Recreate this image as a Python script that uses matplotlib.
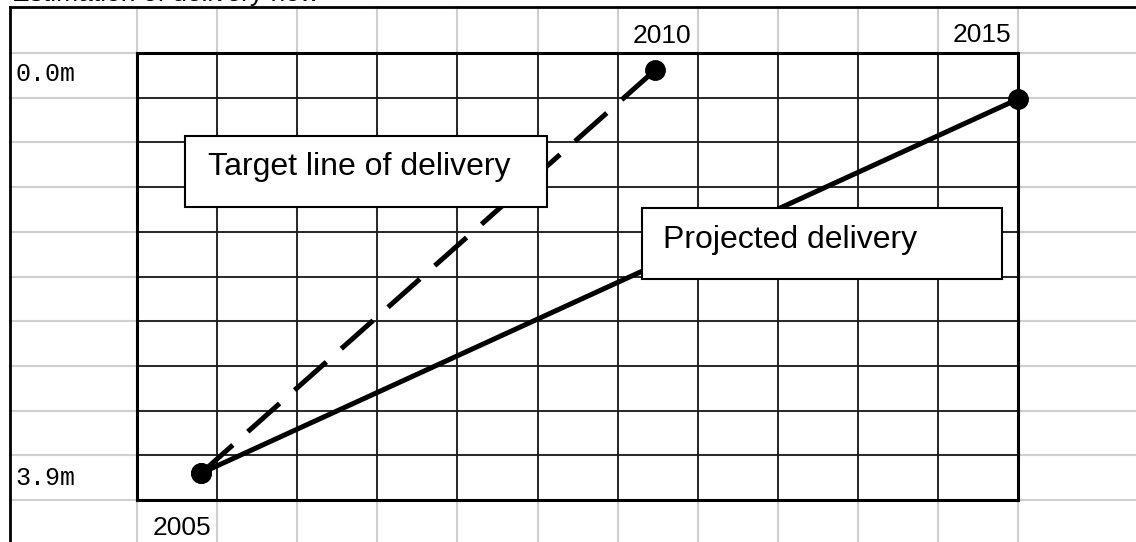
import matplotlib
matplotlib.use("Agg")
import matplotlib.pyplot as plt
from matplotlib.patches import Rectangle

# --- data (grid cells: x = columns from left of grid, y = rows from top) ---
years = ["2005", "2010", "2015"]
year_col = [0.93, 6.92, 10.92]        # right edge of each year label
year_row = [10.78, -0.22, -0.25]      # baseline of each year label
depth_labels = ["0.0m", "3.9m"]
depth_row = [0.62, 9.66]

target_x = [0.80, 6.47]
target_y = [9.40, 0.38]
projected_x = [0.80, 11.0]
projected_y = [9.40, 1.03]

n_cols, n_rows = 11, 10
W, H = 1136, 542
gx0, gy0, cw, rh = 137, 53, 80.1, 44.7   # grid origin / cell size in pixels

fig = plt.figure(figsize=(W / 100, H / 100), dpi=100)
fig.set_facecolor("white")

# spreadsheet background (pixel coords)
bg = fig.add_axes([0, 0, 1, 1])
bg.set_xlim(0, W)
bg.set_ylim(H, 0)
bg.axis("off")
for k in range(n_cols + 1):
    bg.plot([gx0 + k * cw] * 2, [7, H], color="#cfcfcf", lw=1.5, zorder=1)
for k in range(n_rows + 1):
    bg.plot([10, W], [gy0 + k * rh] * 2, color="#cfcfcf", lw=1.5, zorder=1)
bg.plot([10, W], [7, 7], color="black", lw=2, zorder=2)
bg.plot([10, 10], [7, H], color="black", lw=2, zorder=2)
# title row is scrolled almost out of view in the original
bg.text(12, 1.2, "Estimation of delivery now", fontsize=19,
        family="Liberation Sans", va="baseline", ha="left")

# main grid
ax = fig.add_axes([gx0 / W, (H - gy0 - n_rows * rh) / H,
                   n_cols * cw / W, n_rows * rh / H])
ax.set_xlim(0, n_cols)
ax.set_ylim(n_rows, 0)
ax.patch.set_alpha(0)
ax.set_xticks(range(n_cols + 1))
ax.set_yticks(range(n_rows + 1))
ax.tick_params(length=0, labelbottom=False, labelleft=False)
ax.grid(True, color="#1a1a1a", lw=1.3)
for s in ax.spines.values():
    s.set_linewidth(2.2)

ax.plot(target_x, target_y, color="black", lw=3.6, dashes=(8.5, 4),
        marker="o", markersize=14, zorder=3, clip_on=False)
ax.plot(projected_x, projected_y, color="black", lw=3.6,
        marker="o", markersize=14, zorder=3, clip_on=False)

# annotation boxes
ax.add_patch(Rectangle((0.60, 1.86), 4.52, 1.59, facecolor="white",
                       edgecolor="black", lw=1.5, zorder=5))
ax.text(0.89, 2.73, "Target line of delivery", fontsize=23,
        family="Liberation Sans", va="baseline", zorder=6)
ax.add_patch(Rectangle((6.30, 3.47), 4.50, 1.59, facecolor="white",
                       edgecolor="black", lw=1.5, zorder=5))
ax.text(6.57, 4.36, "Projected delivery", fontsize=23,
        family="Liberation Sans", va="baseline", zorder=6)

# labels
for lab, c, r in zip(years, year_col, year_row):
    ax.text(c, r, lab, fontsize=19, family="Liberation Sans",
            ha="right", va="baseline", clip_on=False)
for lab, r in zip(depth_labels, depth_row):
    ax.text(-1.52, r, lab, fontsize=18, family="Liberation Mono",
            ha="left", va="baseline", clip_on=False)

fig.savefig("out.png", dpi=100)
